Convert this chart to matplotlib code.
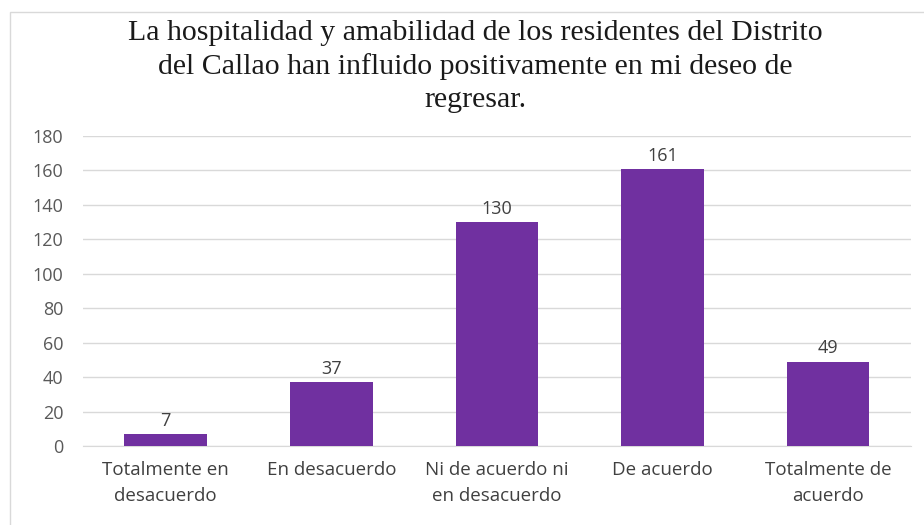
import matplotlib.pyplot as plt
from matplotlib.patches import Rectangle

categorias = ['Totalmente en\ndesacuerdo', 'En desacuerdo', 'Ni de acuerdo ni\nen desacuerdo',
              'De acuerdo', 'Totalmente de\nacuerdo']
frecuencia = [7, 37, 130, 161, 49]
yticks = [0, 20, 40, 60, 80, 100, 120, 140, 160, 180]

fuente = 'Open Sans'

fig = plt.figure(figsize=(9.24, 5.25), dpi=100)
ax = fig.add_axes([0.0898, 0.1505, 0.896, 0.5905])

# marco del grafico
fig.patches.append(Rectangle((10 / 924, -0.01), 1.0, 1 - 12 / 525 + 0.01, transform=fig.transFigure,
                             fill=False, edgecolor='#d9d9d9', linewidth=1))

x = range(len(categorias))
bars = ax.bar(x, frecuencia, width=0.5, color='#7030A0', zorder=3)
for b, v in zip(bars, frecuencia):
    ax.annotate(str(v), (b.get_x() + b.get_width() / 2, v), xytext=(0, 3),
                textcoords='offset points', ha='center', va='bottom',
                fontsize=13, color='#404040', family=fuente)

ax.set_xlim(-0.5, len(categorias) - 0.5)
ax.set_ylim(0, 180)
ax.set_yticks(yticks)
ax.set_yticklabels([str(t) for t in yticks], family=fuente, fontsize=13, color='#595959')
ax.set_xticks(list(x))
ax.set_xticklabels(categorias, family=fuente, fontsize=13.5, color='#404040', linespacing=1.55)
ax.tick_params(axis='x', length=0, pad=11)
ax.tick_params(axis='y', length=0, pad=14)
ax.grid(axis='y', color='#d9d9d9', linewidth=1, zorder=0)
for s in ['top', 'right', 'left']:
    ax.spines[s].set_visible(False)
ax.spines['bottom'].set_color('#d9d9d9')

fig.text(0.514, 0.962, 'La hospitalidad y amabilidad de los residentes del Distrito\n'
         'del Callao han influido positivamente en mi deseo de\nregresar.',
         ha='center', va='top', family='Liberation Serif', fontsize=21.5, color='#1a1a1a',
         linespacing=1.35)

fig.savefig('out.png', dpi=100)
